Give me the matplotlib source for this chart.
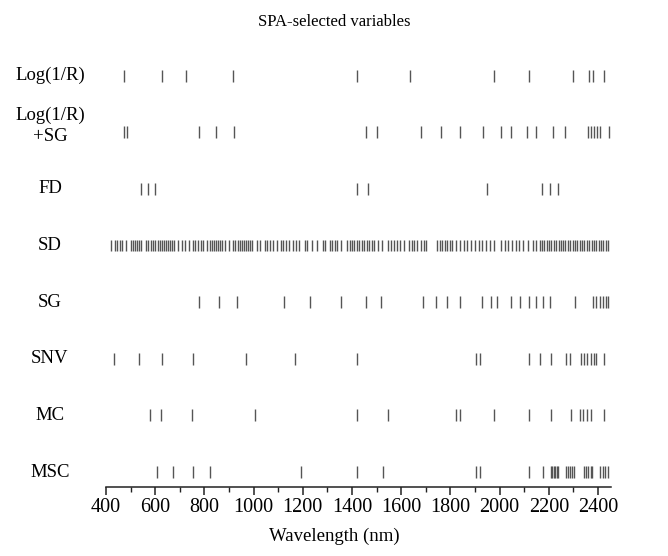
import matplotlib
matplotlib.use('Agg')
import matplotlib.pyplot as plt
from matplotlib.transforms import blended_transform_factory
from matplotlib.ticker import MultipleLocator

labels = ["Log(1/R)", "Log(1/R)\n+SG", "FD", "SD", "SG", "SNV", "MC", "MSC"]

log_r = [472, 626, 725, 915, 1421, 1637, 1978, 2120, 2300, 2363, 2379, 2424]
log_r_sg = [472, 486, 777, 849, 922, 1457, 1501, 1680, 1763, 1840, 1932, 2004,
            2048, 2111, 2148, 2219, 2266, 2358, 2370, 2382, 2395, 2408, 2443]
fd = [544, 570, 598, 1421, 1465, 1948, 2174, 2204, 2237]
sd = [421, 436, 445, 455, 465, 482, 501, 509, 518, 526, 535, 544, 562, 570,
      584, 593, 601, 610, 618, 627, 635, 644, 653, 661, 670, 678, 694, 709,
      721, 736, 752, 762, 776, 786, 795, 810, 822, 830, 839, 848, 856, 865,
      873, 882, 899, 917, 926, 935, 943, 952, 960, 969, 977, 986, 995, 1015,
      1025, 1046, 1056, 1066, 1078, 1094, 1110, 1119, 1131, 1144, 1162, 1174,
      1186, 1209, 1217, 1236, 1258, 1282, 1291, 1309, 1319, 1329, 1339, 1356,
      1380, 1390, 1400, 1410, 1420, 1430, 1440, 1450, 1460, 1470, 1480, 1490,
      1505, 1524, 1548, 1560, 1572, 1584, 1597, 1613, 1630, 1642, 1654, 1665,
      1681, 1692, 1702, 1744, 1757, 1766, 1778, 1788, 1798, 1808, 1823, 1838,
      1854, 1869, 1885, 1899, 1916, 1930, 1946, 1961, 1977, 2005, 2021, 2036,
      2052, 2066, 2079, 2097, 2116, 2134, 2150, 2163, 2172, 2182, 2191, 2201,
      2211, 2220, 2230, 2240, 2249, 2259, 2268, 2278, 2288, 2297, 2307, 2316,
      2326, 2336, 2345, 2355, 2364, 2374, 2384, 2393, 2403, 2413, 2422, 2432,
      2441]
sg = [777, 858, 932, 1122, 1230, 1357, 1457, 1519, 1689, 1743, 1788, 1839,
      1929, 1964, 1991, 2047, 2085, 2120, 2147, 2175, 2204, 2306, 2380, 2394,
      2408, 2420, 2431, 2440]
snv = [434, 533, 626, 752, 968, 1168, 1421, 1903, 1920, 2120, 2166, 2211,
       2272, 2285, 2333, 2345, 2357, 2373, 2383, 2391, 2425]
mc = [578, 625, 751, 1004, 1421, 1547, 1822, 1840, 1978, 2120, 2211, 2290,
      2325, 2340, 2355, 2372, 2424]
msc = [606, 671, 752, 822, 1193, 1421, 1528, 1903, 1920, 2120, 2175, 2208,
       2214, 2220, 2226, 2232, 2238, 2269, 2278, 2287, 2296, 2304, 2342, 2350,
       2358, 2370, 2377, 2410, 2420, 2430, 2440]

series = [log_r, log_r_sg, fd, sd, sg, snv, mc, msc]
label_offsets = [0, 0.115, 0, 0, 0, 0, 0, 0]

plt.rcParams['font.family'] = ['Liberation Serif', 'DejaVu Serif']

fig = plt.figure(figsize=(6.68, 5.56), dpi=100)
ax = fig.add_axes([106 / 668, 0.1241, 505 / 668, 0.7908])
trans = blended_transform_factory(fig.transFigure, ax.transData)

n = len(labels)
for i, (lab, vals) in enumerate(zip(labels, series)):
    y = n - 1 - i
    ax.vlines(vals, y - 0.105, y + 0.105, color='#555555', lw=1.0)
    ax.text(50 / 668, y + label_offsets[i], lab, transform=trans, ha='center',
            va='center', fontsize=13.5, linespacing=1.3)

ax.set_xlim(400, 2453)
ax.set_ylim(-0.264, 7.5)
ax.set_yticks([])
for s in ['left', 'top', 'right']:
    ax.spines[s].set_visible(False)
ax.spines['bottom'].set_linewidth(1.1)
ax.spines['bottom'].set_color('#222222')
ax.xaxis.set_major_locator(MultipleLocator(200))
ax.xaxis.set_minor_locator(MultipleLocator(100))
ax.tick_params(axis='x', which='major', direction='out', length=6, width=1.1,
               color='#222222', labelsize=14.5, pad=2)
ax.tick_params(axis='x', which='minor', direction='out', length=3.5, width=1.0,
               color='#222222')

fig.text(0.5, 1 - 22 / 556, "SPA-selected variables", ha='center',
         va='center', fontsize=12)
fig.text(0.5, 1 - 536 / 556, "Wavelength (nm)", ha='center', va='center',
         fontsize=13.5)

fig.savefig('out.png', dpi=100)
